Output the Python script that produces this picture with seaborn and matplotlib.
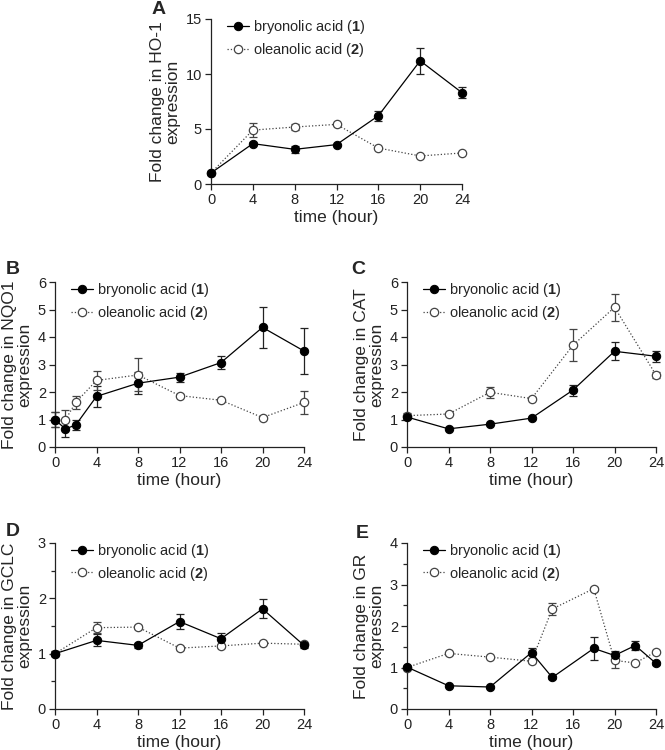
import matplotlib
matplotlib.use("Agg")
import matplotlib.pyplot as plt
import numpy as np
import pandas as pd
import seaborn as sns
from matplotlib.ticker import MultipleLocator

sns.set_theme(style="ticks")
plt.rcParams["font.family"] = ["Liberation Sans", "DejaVu Sans"]
plt.rcParams["mathtext.fontset"] = "custom"
plt.rcParams["mathtext.rm"] = "Liberation Sans"
plt.rcParams["mathtext.bf"] = "Liberation Sans:bold"

# ---- data ----
# A: HO-1
a_time = [0, 4, 8, 12, 16, 20, 24]
a_bry = [1.0, 3.67, 3.15, 3.58, 6.2, 11.2, 8.3]
a_bry_err = [0.15, 0.15, 0.35, 0.1, 0.45, 1.2, 0.5]
a_ole = [1.0, 4.9, 5.18, 5.42, 3.27, 2.55, 2.82]
a_ole_err = [0.1, 0.65, 0.3, 0.12, 0.1, 0.1, 0.1]

# B: NQO1
b_time = [0, 1, 2, 4, 8, 12, 16, 20, 24]
b_bry = [0.99, 0.66, 0.8, 1.84, 2.32, 2.54, 3.07, 4.35, 3.49]
b_bry_err = [0.28, 0.28, 0.18, 0.37, 0.4, 0.16, 0.23, 0.75, 0.85]
b_ole = [1.0, 0.99, 1.62, 2.42, 2.62, 1.87, 1.7, 1.07, 1.62]
b_ole_err = [0.28, 0.36, 0.22, 0.35, 0.6, 0.05, 0.05, 0.05, 0.43]

# C: CAT
c_time = [0, 4, 8, 12, 16, 20, 24]
c_bry = [1.09, 0.66, 0.83, 1.05, 2.07, 3.48, 3.3]
c_bry_err = [0.08, 0.04, 0.04, 0.04, 0.2, 0.33, 0.2]
c_ole = [1.14, 1.2, 1.99, 1.76, 3.7, 5.08, 2.62]
c_ole_err = [0.08, 0.05, 0.2, 0.05, 0.58, 0.48, 0.12]

# D: GCLC
d_time = [0, 4, 8, 12, 16, 20, 24]
d_bry = [1.0, 1.24, 1.15, 1.58, 1.27, 1.81, 1.15]
d_bry_err = [0.04, 0.11, 0.04, 0.13, 0.11, 0.17, 0.04]
d_ole = [1.0, 1.47, 1.48, 1.1, 1.14, 1.19, 1.17]
d_ole_err = [0.04, 0.1, 0.04, 0.04, 0.04, 0.02, 0.02]

# E: GR
e_time = [0, 4, 8, 12, 14, 18, 20, 22, 24]
e_bry = [1.01, 0.56, 0.53, 1.36, 0.76, 1.46, 1.29, 1.53, 1.1]
e_bry_err = [0.03, 0.03, 0.03, 0.12, 0.03, 0.27, 0.1, 0.1, 0.04]
e_ole = [1.0, 1.34, 1.25, 1.15, 2.41, 2.9, 1.17, 1.11, 1.38]
e_ole_err = [0.03, 0.03, 0.03, 0.03, 0.14, 0.05, 0.18, 0.03, 0.03]

panels = [
    ("A", "HO-1", a_time, a_bry, a_bry_err, a_ole, a_ole_err, 15, 5, None,
     [211, 19, 462, 184], (159, 10)),
    ("B", "NQO1", b_time, b_bry, b_bry_err, b_ole, b_ole_err, 6, 1, None,
     [55, 282, 304, 447], (13, 270)),
    ("C", "CAT", c_time, c_bry, c_bry_err, c_ole, c_ole_err, 6, 1, None,
     [407, 282, 656, 447], (358, 270)),
    ("D", "GCLC", d_time, d_bry, d_bry_err, d_ole, d_ole_err, 3, 1, 0.5,
     [55, 543, 304, 709], (13, 532)),
    ("E", "GR", e_time, e_bry, e_bry_err, e_ole, e_ole_err, 4, 1, 0.5,
     [407, 543, 656, 709], (362, 533)),
]

W, H = 665, 750
fig = plt.figure(figsize=(W / 100, H / 100), dpi=100)

for letter, gene, t, bry, bry_err, ole, ole_err, ytop, ystep, yminor, box, lpos in panels:
    x0, y0, x1, y1 = box
    ax = fig.add_axes([x0 / W, 1 - y1 / H, (x1 - x0) / W, (y1 - y0) / H])

    df = pd.DataFrame({
        "time": t * 2,
        "value": bry + ole,
        "compound": ["bry"] * len(t) + ["ole"] * len(t),
    })

    # error bars first, under markers
    ax.errorbar(t, bry, yerr=bry_err, fmt="none", ecolor="#222222",
                elinewidth=0.9, capsize=3, capthick=0.9, clip_on=False, zorder=2)
    ax.errorbar(t, ole, yerr=ole_err, fmt="none", ecolor="#444444",
                elinewidth=0.9, capsize=3, capthick=0.9, clip_on=False, zorder=2)

    sns.lineplot(data=df[df.compound == "bry"], x="time", y="value", ax=ax,
                 color="black", linewidth=0.9, marker="o", markersize=6,
                 markerfacecolor="black", markeredgecolor="black",
                 label=r"bryonolic acid ($\mathbf{1}$)", clip_on=False, zorder=4)
    sns.lineplot(data=df[df.compound == "ole"], x="time", y="value", ax=ax,
                 color="#444444", linewidth=0.9, linestyle=":", marker="o",
                 markersize=6, markerfacecolor="white", markeredgecolor="#444444",
                 markeredgewidth=0.9,
                 label=r"oleanolic acid ($\mathbf{2}$)", clip_on=False, zorder=3)

    ax.set_xlim(0, 24)
    ax.set_ylim(0, ytop)
    ax.set_xticks(range(0, 25, 4))
    ax.yaxis.set_major_locator(MultipleLocator(ystep))
    if yminor:
        ax.yaxis.set_minor_locator(MultipleLocator(yminor))
    sns.despine(ax=ax)
    for s in ["left", "bottom"]:
        ax.spines[s].set_linewidth(0.9)
        ax.spines[s].set_color("#222222")
    ax.tick_params(axis="both", which="major", labelsize=10.5, length=4,
                   width=0.9, pad=2.5, colors="#222222")
    ax.tick_params(axis="y", which="minor", length=3, width=0.9)

    ax.set_xlabel("time (hour)", fontsize=12.5, labelpad=2)
    ax.set_ylabel(f"Fold change in {gene}\nexpression", fontsize=12.5,
                  labelpad=4, linespacing=1.0)

    leg = ax.legend(loc="upper left", bbox_to_anchor=(0.04, 1.04), frameon=False,
                    fontsize=10.5, handlelength=1.5, handletextpad=0.3,
                    labelspacing=0.3, borderaxespad=0.0)

    fig.text(lpos[0] / W, 1 - lpos[1] / H, letter, fontsize=14,
             fontweight="bold", ha="center", va="center")

fig.savefig("out.png", dpi=100)
